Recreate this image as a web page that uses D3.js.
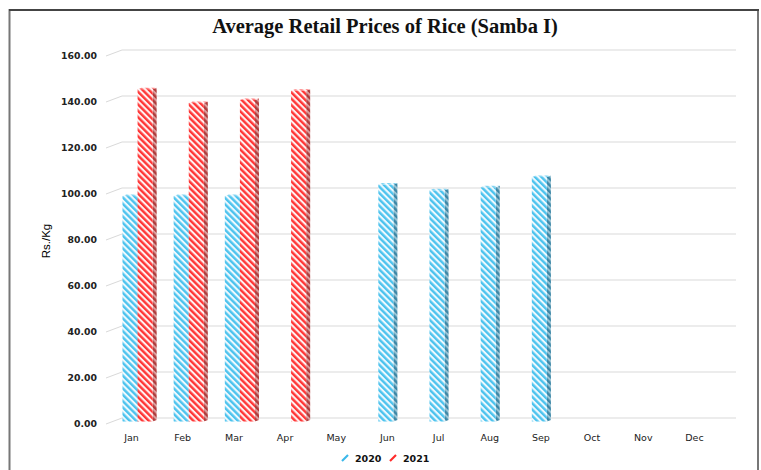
<!DOCTYPE html>
<html>
<head>
<meta charset="utf-8">
<script src="https://cdn.jsdelivr.net/npm/d3@7"></script>
<style>
  body { margin: 0; background: #fff; }
  svg { display: block; }
</style>
</head>
<body>
<script>
// data
const months = ["Jan", "Feb", "Mar", "Apr", "May", "Jun", "Jul", "Aug", "Sep", "Oct", "Nov", "Dec"];
const prices2020 = [98, 98, 98, null, null, 103, 100.5, 101.8, 106.3, null, null, null];
const prices2021 = [144.5, 138.5, 139.8, 143.8, null, null, null, null, null, null, null, null];
const seriesNames = ["2020", "2021"];
const yTicks = [0, 20, 40, 60, 80, 100, 120, 140, 160];

const W = 761, H = 470;
const svg = d3.select("body").append("svg").attr("width", W).attr("height", H);

// wall depth offset (3d look)
const wallDx = 16, wallDy = -6;
const barDx = 6, barDy = -2.5;   // front face of bars sits part way in
const sideDx = 4, sideDy = -1.5; // bar thickness

const x = d3.scaleBand().domain(months).range([106, 720]).paddingInner(0.41).paddingOuter(0.205);
const x1 = d3.scaleBand().domain(seriesNames).range([0, x.bandwidth()]);
const y = d3.scaleLinear().domain([0, 160]).range([424, 56]);

// stripe patterns
const defs = svg.append("defs");
function stripes(id, col, bg) {
  const p = defs.append("pattern").attr("id", id).attr("patternUnits", "userSpaceOnUse")
    .attr("width", 4.5).attr("height", 4.5).attr("patternTransform", "rotate(-45)");
  p.append("rect").attr("width", 4.5).attr("height", 4.5).attr("fill", bg);
  p.append("rect").attr("width", 2.4).attr("height", 4.5).attr("fill", col);
}
stripes("blueFront", "#4cc3ee", "#eef9fe");
stripes("blueSide", "#3a86a6", "#9cc4d4");
stripes("blueTop", "#7fd3f2", "#f0fafe");
stripes("redFront", "#ff3636", "#fff0f0");
stripes("redSide", "#b03a3a", "#d9a0a0");
stripes("redTop", "#ff7a7a", "#fff0f0");

// border
svg.append("rect").attr("x", 9.5).attr("y", 10).attr("width", 748.5).attr("height", 480)
  .attr("fill", "none").attr("stroke", "#777").attr("stroke-width", 2);
svg.append("line").attr("x1", 9).attr("x2", 759).attr("y1", 10).attr("y2", 10)
  .attr("stroke", "#333").attr("stroke-width", 1.5);

// title
svg.append("text").attr("x", 385).attr("y", 33).attr("text-anchor", "middle")
  .attr("font-family", "Liberation Serif, Times New Roman, serif").attr("font-weight", "bold")
  .attr("font-size", 20.5).attr("fill", "#111").text("Average Retail Prices of Rice (Samba I)");

// gridlines: diagonal on floor side + back wall line
const x0 = x.range()[0], xEnd = x.range()[1];
const grid = svg.append("g").attr("stroke", "#d9d9d9").attr("fill", "none");
yTicks.forEach(t => {
  grid.append("path").attr("d", `M${x0},${y(t)} L${x0 + wallDx},${y(t) + wallDy} L${xEnd + wallDx},${y(t) + wallDy}`);
});

// y tick labels
svg.append("g").selectAll("text").data(yTicks).join("text")
  .attr("x", 97).attr("y", d => y(d)).attr("dy", "0.35em").attr("text-anchor", "end")
  .attr("font-family", "DejaVu Sans, Verdana, sans-serif").attr("font-weight", "bold")
  .attr("font-size", 9.3).attr("fill", "#222").text(d3.format(".2f"));

// y axis title
svg.append("text").attr("transform", "translate(50,241) rotate(-90)").attr("text-anchor", "middle")
  .attr("font-family", "Liberation Sans Narrow, Liberation Sans, Arial, sans-serif")
  .attr("font-size", 11.5).attr("fill", "#000").text("Rs./Kg");

// month labels
svg.append("g").selectAll("text").data(months).join("text")
  .attr("x", d => x(d) + x.bandwidth() / 2).attr("y", 441).attr("text-anchor", "middle")
  .attr("font-family", "DejaVu Sans, Verdana, sans-serif").attr("font-size", 9.5)
  .attr("fill", "#222").text(d => d);

// bars
const bars = [];
months.forEach((m, i) => {
  [prices2020[i], prices2021[i]].forEach((v, k) => {
    if (v != null) bars.push({ m, k, v });
  });
});
const fills = [["blueFront", "blueSide", "blueTop"], ["redFront", "redSide", "redTop"]];
const bg = svg.append("g");
bars.forEach(b => {
  const bx0 = x(b.m) + x1(seriesNames[b.k]) + barDx;
  const bx1 = bx0 + x1.bandwidth();
  const yt = y(b.v) + barDy, yb = y(0) + barDy;
  const f = fills[b.k];
  const g = bg.append("g");
  g.append("path").attr("fill", `url(#${f[1]})`)
    .attr("d", `M${bx1},${yt} L${bx1 + sideDx},${yt + sideDy} L${bx1 + sideDx},${yb + sideDy} L${bx1},${yb}Z`);
  g.append("rect").attr("x", bx0).attr("y", yt).attr("width", x1.bandwidth()).attr("height", yb - yt)
    .attr("fill", `url(#${f[0]})`);
  g.append("path").attr("fill", `url(#${f[2]})`)
    .attr("d", `M${bx0},${yt} L${bx1},${yt} L${bx1 + sideDx},${yt + sideDy} L${bx0 + sideDx},${yt + sideDy}Z`);
});

// legend
const leg = svg.append("g").attr("font-family", "DejaVu Sans, Verdana, sans-serif")
  .attr("font-weight", "bold").attr("font-size", 9.5).attr("fill", "#111");
const legCols = ["#3bb8ea", "#ff2a2a"];
const legX = [342, 390];
seriesNames.forEach((s, k) => {
  leg.append("path").attr("d", `M${legX[k]},${461} L${legX[k] + 6},${455}`)
    .attr("stroke", legCols[k]).attr("stroke-width", 2.2);
  leg.append("text").attr("x", legX[k] + 13).attr("y", 462).text(s);
});
</script>
</body>
</html>
